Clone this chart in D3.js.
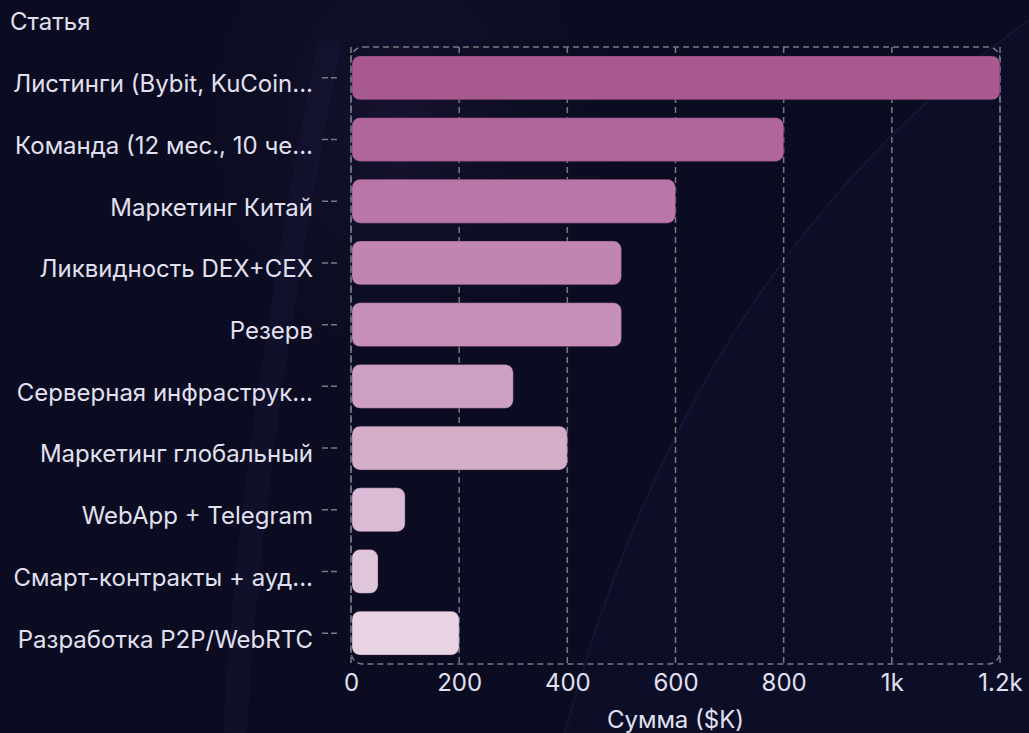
<!DOCTYPE html>
<html>
<head>
<meta charset="utf-8">
<script src="https://cdn.jsdelivr.net/npm/d3@7"></script>
<style>
  html, body { margin: 0; padding: 0; background: #0b0c21; }
  svg { display: block; font-family: Inter, "Noto Sans", sans-serif; }
</style>
</head>
<body>
<svg id="chart"></svg>
<script>
var viewWidth = 1029;
var viewHeight = 733;

// data
var categories = [
  "Листинги (Bybit, KuCoin...",
  "Команда (12 мес., 10 че...",
  "Маркетинг Китай",
  "Ликвидность DEX+CEX",
  "Резерв",
  "Серверная инфраструк...",
  "Маркетинг глобальный",
  "WebApp + Telegram",
  "Смарт-контракты + ауд...",
  "Разработка P2P/WebRTC"
];
var amounts = [1200, 800, 600, 500, 500, 300, 400, 100, 50, 200];
var xTicks = [0, 200, 400, 600, 800, 1000, 1200];
var xTickLabels = ["0", "200", "400", "600", "800", "1k", "1.2k"];
var barColors = ["#a8598f", "#b0659c", "#b877a8", "#c085b0", "#c690b8",
                 "#cd9fc2", "#d4adc9", "#dabad4", "#e0c6db", "#e8d4e3"];

var margin = {top: 47, right: 29, bottom: 69, left: 351};
var width = viewWidth - margin.left - margin.right;
var height = viewHeight - margin.top - margin.bottom;
var fontSize = "24px";
var textColor = "#e2e0f0";
var lineColor = "#7a7a82";

var svg = d3.select("#chart")
    .attr("width", viewWidth)
    .attr("height", viewHeight);

// background with faint arcs
svg.append("rect")
    .attr("width", viewWidth)
    .attr("height", viewHeight)
    .attr("fill", "#0b0c21");

var defs = svg.append("defs");
var glow = defs.append("radialGradient").attr("id", "glow");
glow.append("stop").attr("offset", "0%").attr("stop-color", "#2a1f4a").attr("stop-opacity", 0.35);
glow.append("stop").attr("offset", "100%").attr("stop-color", "#0b0c21").attr("stop-opacity", 0);

svg.append("ellipse")
    .attr("cx", 400).attr("cy", 120)
    .attr("rx", 240).attr("ry", 300)
    .attr("fill", "url(#glow)");

svg.append("path")
    .attr("d", "M 565 733 Q 690 260 1029 20 L 1029 733 Z")
    .attr("fill", "#111338")
    .attr("opacity", 0.3);

svg.append("path")
    .attr("d", "M 565 733 Q 690 260 1029 20")
    .attr("fill", "none")
    .attr("stroke", "#23244a")
    .attr("stroke-width", 2)
    .attr("opacity", 0.4);

svg.append("path")
    .attr("d", "M 235 733 Q 250 450 330 40")
    .attr("fill", "none")
    .attr("stroke", "#1c1a3e")
    .attr("stroke-width", 24)
    .attr("opacity", 0.35);

var g = svg.append("g")
    .attr("transform", "translate(" + margin.left + "," + margin.top + ")");

var x = d3.scaleLinear()
    .domain([0, 1200])
    .range([0, width]);

var y = d3.scaleBand()
    .domain(categories)
    .range([0, height])
    .paddingInner(0.29)
    .paddingOuter(0.145);

// grid
g.selectAll(".grid")
    .data(xTicks)
    .enter().append("line")
    .attr("class", "grid")
    .attr("x1", function(d) { return x(d); })
    .attr("x2", function(d) { return x(d); })
    .attr("y1", 0)
    .attr("y2", height)
    .attr("stroke", lineColor)
    .attr("stroke-width", 1.5)
    .attr("stroke-dasharray", "6,4");

// rounded dashed frame
g.append("rect")
    .attr("x", 0)
    .attr("y", 0)
    .attr("width", width)
    .attr("height", height)
    .attr("rx", 12)
    .attr("fill", "none")
    .attr("stroke", lineColor)
    .attr("stroke-width", 1.5)
    .attr("stroke-dasharray", "6,4");

// bars
g.selectAll(".bar")
    .data(amounts)
    .enter().append("rect")
    .attr("class", "bar")
    .attr("x", x(0) + 1)
    .attr("y", function(d, i) { return y(categories[i]); })
    .attr("width", function(d) { return x(d) - x(0) - 1; })
    .attr("height", y.bandwidth())
    .attr("rx", 8)
    .attr("fill", function(d, i) { return barColors[i]; })
    .attr("stroke", "rgba(60,30,60,0.35)")
    .attr("stroke-width", 1);

// y axis
var yAxis = g.append("g")
    .attr("transform", "translate(-14,0)")
    .call(d3.axisLeft(y).tickSize(16).tickPadding(8));
yAxis.select(".domain").remove();
yAxis.selectAll(".tick line")
    .attr("stroke", lineColor)
    .attr("stroke-width", 1.5)
    .attr("stroke-dasharray", "6,3");
yAxis.selectAll(".tick text")
    .attr("dy", "0.6em")
    .attr("fill", textColor)
    .style("font-size", fontSize)
    .style("font-family", "Inter, 'Noto Sans', sans-serif");

// x axis
var xAxis = g.append("g")
    .attr("transform", "translate(0," + height + ")")
    .call(d3.axisBottom(x).tickValues(xTicks)
      .tickFormat(function(d, i) { return xTickLabels[i]; })
      .tickSize(0).tickPadding(10));
xAxis.select(".domain").remove();
xAxis.selectAll(".tick text")
    .attr("fill", textColor)
    .style("font-size", fontSize)
    .style("font-family", "Inter, 'Noto Sans', sans-serif");

// titles
svg.append("text")
    .attr("x", 10)
    .attr("y", 30)
    .attr("fill", textColor)
    .style("font-size", fontSize)
    .text("Статья");

svg.append("text")
    .attr("x", margin.left + width / 2)
    .attr("y", 728)
    .attr("text-anchor", "middle")
    .attr("fill", textColor)
    .style("font-size", fontSize)
    .text("Сумма ($K)");
</script>
</body>
</html>
